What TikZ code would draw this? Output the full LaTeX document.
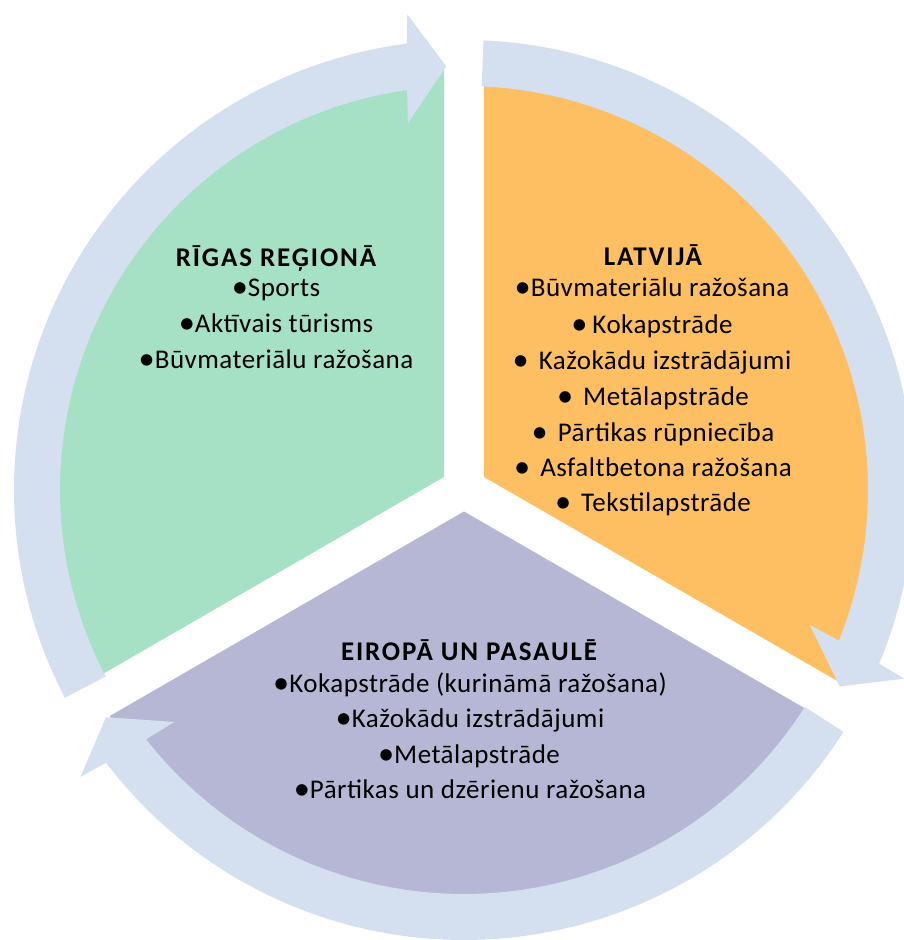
\documentclass[tikz,border=0pt]{standalone}
\usepackage{fontspec}
\setmainfont{Carlito}[LetterSpace=1.8]
\newfontfamily\hdrfont{Carlito}[LetterSpace=7]
\definecolor{bandblue}{RGB}{212,223,239}
\definecolor{seggreen}{RGB}{166,224,197}
\definecolor{segorange}{RGB}{254,190,98}
\definecolor{segpurple}{RGB}{182,183,212}
\tikzset{
  lbl/.style={anchor=base, inner sep=0pt, font=\fontsize{27}{30}\selectfont, text=black},
  hdr/.style={lbl, font=\hdrfont\fontsize{27}{30}\selectfont\bfseries},
}
\newcommand\bul{\raisebox{-0.7pt}{\scalebox{1.2}{\textbullet}}}
\begin{document}
\begin{tikzpicture}[x=1pt,y=1pt]
\useasboundingbox (0,0) rectangle (904,940);
\clip (0,0) rectangle (904,940);
% segments
\fill[seggreen] (444,463) -- ++(90:409pt) arc[start angle=90,end angle=210,radius=409pt] -- cycle;
\fill[segorange] (484,463) -- ++(-30:409pt) arc[start angle=-30,end angle=90,radius=409pt] -- cycle;
\fill[segpurple] (464,428.5) -- ++(210:409pt) arc[start angle=210,end angle=330,radius=409pt] -- cycle;
% circular arrows
\begin{scope}[shift={(464,450)}]
\foreach \s/\t in {207.5/92.4, 87.5/-27.6, 327.5/212.4}{
  \pgfmathsetmacro\ao{\t+4.9}
  \pgfmathsetmacro\bo{\t+4.4}
  \pgfmathsetmacro\bi{\t+6.3}
  \pgfmathsetmacro\ai{\t+5.7}
  \fill[bandblue] (\s:450pt) arc[start angle=\s,end angle=\ao,radius=450pt]
     -- (\bo:479pt) -- (\t:424pt) -- (\bi:371pt) -- (\ai:404pt)
     arc[start angle=\ai,end angle=\s,radius=404pt] -- cycle;
}
\end{scope}
% green texts
\node[hdr] (g0) at (276,673) {RĪGAS REĢIONĀ};
\node[lbl] (g1) at (276,643) {\bul Sports};
\node[lbl] (g2) at (276,607) {\bul Aktīvais tūrisms};
\node[lbl] (g3) at (276,571) {\bul Būvmateriālu ražošana};
% orange texts
\node[hdr] (o0) at (653,674) {LATVIJĀ};
\node[lbl] (o1) at (652,643) {\bul Būvmateriālu ražošana};
\node[lbl] (o2) at (652,606) {\bul\hspace{5pt}Kokapstrāde};
\node[lbl] (o3) at (652,570) {\bul\hspace{10pt}Kažokādu izstrādājumi};
\node[lbl] (o4) at (653,534) {\bul\hspace{10pt}Metālapstrāde};
\node[lbl] (o5) at (653,498) {\bul\hspace{10pt}Pārtikas rūpniecība};
\node[lbl] (o6) at (653,463) {\bul\hspace{10pt}Asfaltbetona ražošana};
\node[lbl] (o7) at (653,428) {\bul\hspace{10pt}Tekstilapstrāde};
% purple texts
\node[hdr] (p0) at (469,279) {EIROPĀ UN PASAULĒ};
\node[lbl] (p1) at (470,247) {\bul Kokapstrāde (kurināmā ražošana)};
\node[lbl] (p2) at (470,212) {\bul Kažokādu izstrādājumi};
\node[lbl] (p3) at (469,176) {\bul Metālapstrāde};
\node[lbl] (p4) at (470,141) {\bul Pārtikas un dzērienu ražošana};
\end{tikzpicture}
\end{document}
